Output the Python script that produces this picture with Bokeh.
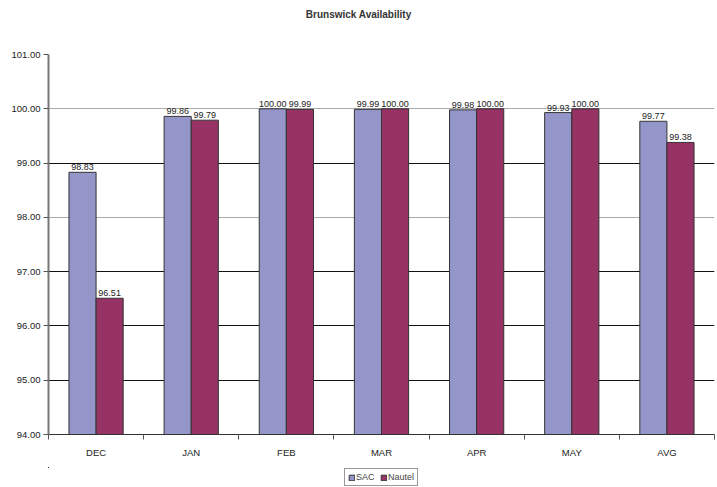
from bokeh.plotting import figure
from bokeh.layouts import column
from bokeh.models import (ColumnDataSource, Range1d, FixedTicker, NumeralTickFormatter,
                          Legend, LegendItem, LabelSet, Grid, Div)
from bokeh.core.properties import value
from bokeh.transform import dodge
from bokeh.embed import file_html
from bokeh.resources import INLINE

months = ["DEC", "JAN", "FEB", "MAR", "APR", "MAY", "AVG"]
sac = [98.83, 99.86, 100.00, 99.99, 99.98, 99.93, 99.77]
nautel = [96.51, 99.79, 99.99, 100.00, 100.00, 100.00, 99.38]
y_ticks = [94, 95, 96, 97, 98, 99, 100, 101]
series = ["SAC", "Nautel"]
title = "Brunswick Availability"

FONT = "Liberation Sans"
SAC_COLOR = "#9496C9"
NAUTEL_COLOR = "#963264"

xc = [i + 0.5 for i in range(len(months))]
src = ColumnDataSource(dict(
    x=xc, sac=sac, nautel=nautel,
    sac_lbl=["%.2f" % v for v in sac],
    nau_lbl=["%.2f" % v for v in nautel],
))

head = Div(text=title, width=717, height=28, margin=0,
           styles={"font-family": FONT, "font-size": "10px", "font-weight": "bold",
                   "color": "#333333", "text-align": "center", "line-height": "30px",
                   "width": "717px"})

p = figure(width=717, height=439, output_backend="svg", toolbar_location=None,
           x_range=Range1d(0, len(months)), y_range=Range1d(94, 101),
           min_border_left=48, min_border_right=3, min_border_top=26,
           min_border_bottom=33, margin=0)
p.outline_line_color = None
p.background_fill_color = "white"

bw = 0.285
p.vbar(x=dodge("x", -bw / 2), top="sac", bottom=94, width=bw, source=src,
       fill_color=SAC_COLOR, line_color="#333333", line_width=1)
p.vbar(x=dodge("x", bw / 2), top="nautel", bottom=94, width=bw, source=src,
       fill_color=NAUTEL_COLOR, line_color="#333333", line_width=1)

for col, lbl, off in (("sac", "sac_lbl", -bw / 2), ("nautel", "nau_lbl", bw / 2)):
    p.add_layout(LabelSet(x=dodge("x", off), y=col, text=lbl, source=src,
                          text_align="center", text_baseline="bottom", y_offset=2,
                          text_font=value(FONT), text_font_size=value("9px"),
                          text_color="#222222"))

# grid lines
p.xgrid.visible = False
p.ygrid.ticker = FixedTicker(ticks=[95, 96, 97, 99, 101])
p.ygrid.grid_line_color = "#111111"
p.ygrid.grid_line_width = 1
p.ygrid.grid_line_alpha = 1.0
g2 = Grid(dimension=1, ticker=FixedTicker(ticks=[98, 100]),
          grid_line_color="#aaaaaa", grid_line_width=1)
p.add_layout(g2)

# y axis
p.yaxis.ticker = FixedTicker(ticks=y_ticks)
p.yaxis.formatter = NumeralTickFormatter(format="0.00")
p.yaxis.major_label_text_font = FONT
p.yaxis.major_label_text_font_size = "9.5px"
p.yaxis.major_label_text_color = "#222222"
p.yaxis.axis_line_color = "#777777"
p.yaxis.axis_line_width = 2
p.yaxis.major_tick_line_color = "#555555"
p.yaxis.major_tick_out = 5
p.yaxis.major_tick_in = 0
p.yaxis.minor_tick_line_color = None
p.yaxis.major_label_standoff = 3

# x axis: labels at centres, ticks at category boundaries
p.xaxis.ticker = FixedTicker(ticks=xc, minor_ticks=list(range(len(months) + 1)))
p.xaxis.major_label_overrides = {x: m for x, m in zip(xc, months)}
p.xaxis.major_label_text_font = FONT
p.xaxis.major_label_text_font_size = "9.5px"
p.xaxis.major_label_text_color = "#222222"
p.xaxis.major_tick_line_color = None
p.xaxis.major_tick_out = 0
p.xaxis.minor_tick_line_color = "#555555"
p.xaxis.minor_tick_out = 5
p.xaxis.minor_tick_in = 0
p.xaxis.axis_line_color = "#333333"
p.xaxis.major_label_standoff = 7

# legend strip below the chart (its bars fall outside its ranges; only the legend shows)
lg = figure(width=717, height=20, output_backend="svg", toolbar_location=None,
            x_range=Range1d(50, 51), y_range=Range1d(0, 1), margin=0,
            min_border=0, x_axis_type=None, y_axis_type=None)
lg.outline_line_color = None
lg.grid.visible = False
lr1 = lg.vbar(x="x", top="sac", bottom=94, width=bw, source=src,
              fill_color=SAC_COLOR, line_color="#333333")
lr2 = lg.vbar(x="x", top="nautel", bottom=94, width=bw, source=src,
              fill_color=NAUTEL_COLOR, line_color="#333333")
legend = Legend(items=[LegendItem(label=series[0], renderers=[lr1]),
                       LegendItem(label=series[1], renderers=[lr2])],
                orientation="horizontal", location="center",
                label_text_font=FONT, label_text_font_size="9px",
                glyph_width=7, glyph_height=7, label_standoff=1, spacing=4,
                padding=3, margin=0, label_height=9,
                border_line_color="#333333", border_line_width=1,
                background_fill_alpha=1.0)
lg.add_layout(legend)

layout = column(head, p, lg, spacing=0, margin=0)
open("out.html", "w").write(file_html(layout, INLINE))
